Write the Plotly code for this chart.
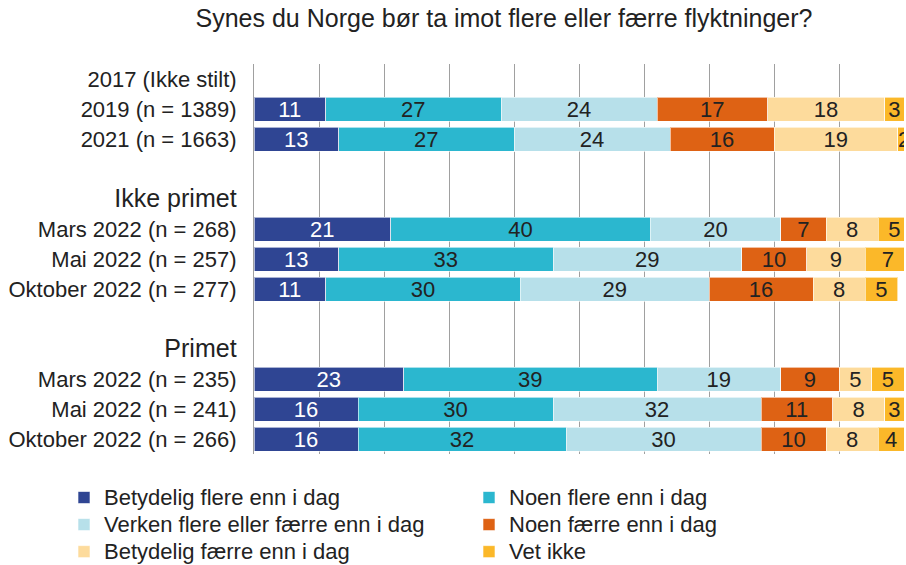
import plotly.graph_objects as go

categories = [
    "2017 (Ikke stilt)", "2019 (n = 1389)", "2021 (n = 1663)", " ",
    "Ikke primet", "Mars 2022 (n = 268)", "Mai 2022 (n = 257)", "Oktober 2022 (n = 277)", "  ",
    "Primet", "Mars 2022 (n = 235)", "Mai 2022 (n = 241)", "Oktober 2022 (n = 266)",
]
headers = ["Ikke primet", "Primet"]

series_names = [
    "Betydelig flere enn i dag", "Noen flere enn i dag",
    "Verken flere eller færre enn i dag", "Noen færre enn i dag",
    "Betydelig færre enn i dag", "Vet ikke",
]
N = None
betydelig_flere = [N, 11, 13, N, N, 21, 13, 11, N, N, 23, 16, 16]
noen_flere      = [N, 27, 27, N, N, 40, 33, 30, N, N, 39, 30, 32]
verken          = [N, 24, 24, N, N, 20, 29, 29, N, N, 19, 32, 30]
noen_faerre     = [N, 17, 16, N, N, 7, 10, 16, N, N, 9, 11, 10]
betydelig_faerre= [N, 18, 19, N, N, 8, 9, 8, N, N, 5, 8, 8]
vet_ikke        = [N, 3, 2, N, N, 5, 7, 5, N, N, 5, 3, 4]
series_values = [betydelig_flere, noen_flere, verken, noen_faerre, betydelig_faerre, vet_ikke]

colors = ["#2F4593", "#2BB7CF", "#B7E0EA", "#DE6214", "#FDDB9C", "#FBB829"]
text_colors = ["white", "#222222", "#222222", "#222222", "#222222", "#222222"]

FONT = "Liberation Sans, Arial, sans-serif"

fig = go.Figure()
for name, vals, c, tc in zip(series_names, series_values, colors, text_colors):
    fig.add_trace(go.Bar(
        y=categories, x=vals, orientation="h",
        name=f'<span style="font-size:22px">{name}</span>',
        marker=dict(color=c, line=dict(color="rgba(255,255,255,0.6)", width=1)),
        texttemplate="%{x}", textposition="inside", insidetextanchor="middle",
        textangle=0, constraintext="none",
        textfont=dict(family=FONT, size=22, color=tc),
        hovertemplate=name + ": %{x}<extra></extra>",
    ))

ticktext = [
    f'<span style="font-size:25px">{c}</span>' if c in headers else c
    for c in categories
]

fig.update_layout(
    barmode="stack",
    bargap=0.2,
    width=906, height=565,
    margin=dict(l=254, r=2, t=64, b=111, autoexpand=False),
    plot_bgcolor="white", paper_bgcolor="white",
    font=dict(family=FONT, size=22, color="#222222"),
    title=dict(text="Synes du Norge bør ta imot flere eller færre flyktninger?",
               x=504/906, xanchor="center", y=1 - 18/565, yanchor="middle",
               font=dict(size=25, color="#222222")),
    xaxis=dict(range=[0, 100], dtick=10, showgrid=True, gridcolor="#A0A0A0", gridwidth=1,
               showticklabels=False, zeroline=False, showline=False, ticks="",
               automargin=False),
    yaxis=dict(categoryorder="array", categoryarray=categories, autorange="reversed",
               tickvals=categories, ticktext=ticktext,
               showline=True, linecolor="#A0A0A0", linewidth=1, ticks="",
               ticklabelstandoff=12, showgrid=False, automargin=False,
               tickfont=dict(size=22, color="#222222")),
    legend=dict(orientation="h", x=(64 - 254) / 650, xanchor="left",
                y=(454 - 479) / 390, yanchor="top",
                entrywidth=360, entrywidthmode="pixels",
                font=dict(size=18.5, color="#222222"), traceorder="normal",
                itemwidth=30),
    showlegend=True,
)

fig.write_html("out.html", post_script="document.body.style.margin='0';",
               config={"displayModeBar": False})
